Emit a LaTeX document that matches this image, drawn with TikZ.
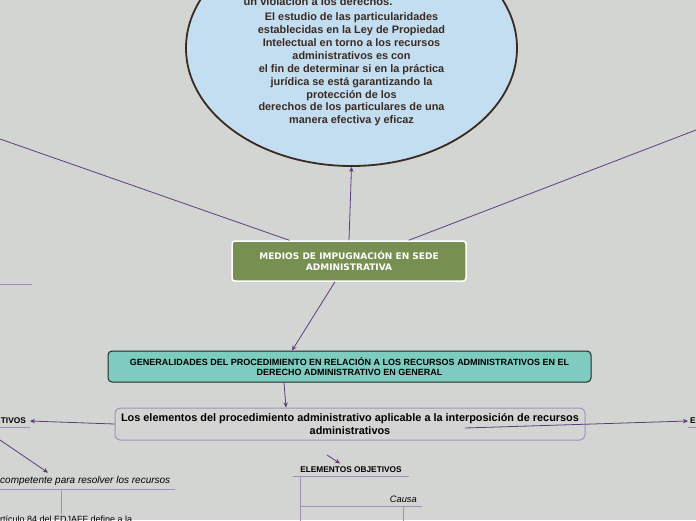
\documentclass[tikz,border=0pt]{standalone}
\usepackage{fontspec}
\setmainfont{Liberation Sans}
\newfontfamily\verd{DejaVu Sans}
\usepackage{tikz}
\usetikzlibrary{shapes.geometric}
\usetikzlibrary{arrows.meta}
\definecolor{fondo}{HTML}{D3D5D2}
\definecolor{cielo}{HTML}{C4DEF1}
\definecolor{cafe}{HTML}{3A2A22}
\definecolor{olivo}{HTML}{778F50}
\definecolor{menta}{HTML}{7ECCC0}
\definecolor{morado}{HTML}{5E3C80}
\definecolor{lila}{HTML}{A48EBF}

\begin{document}
\begin{tikzpicture}[x=1pt,y=-1pt,
	conn/.style={morado,line width=0.8pt},
	flecha/.style={conn,-{Stealth[length=5pt,width=4.5pt]}},
	sub/.style={lila,line width=1pt},
	tema/.style={font=\bfseries\fontsize{8.3}{10}\selectfont,inner xsep=2pt,inner ysep=3.5pt},
	hoja/.style={font=\itshape\fontsize{9.3}{11}\selectfont,inner xsep=1pt,inner ysep=3.5pt}]
	\fill[fondo] (0,0) rectangle (696,520);
	\useasboundingbox (0,0) rectangle (696,520);
	\node[ellipse,draw=cafe,line width=1.8pt,fill=cielo,minimum width=331pt,minimum height=236pt,inner sep=0pt] (obj) at (351.5,48) {};
	\node[text=cafe,font=\bfseries\fontsize{10.9}{12.95}\selectfont,align=center] (objtxt) at (351.5,69.3) {El estudio de las particularidades\\establecidas en la Ley de Propiedad\\Intelectual en torno a los recursos\\administrativos es con\\el fin de determinar si en la práctica\\jurídica se está garantizando la\\protección de los\\derechos de los particulares de una\\manera efectiva y eficaz};
	\node[text=cafe,font=\bfseries\fontsize{11.1}{13}\selectfont,anchor=base] (objtop) at (318,5) {un violación a los derechos.};
	\node[draw=white,line width=1.5pt,fill=olivo,rounded corners=3pt,minimum width=234pt,minimum height=40pt,text=white,align=center,font=\verd\bfseries\fontsize{9}{11}\selectfont] (main) at (349,261) {MEDIOS DE IMPUGNACIÓN EN SEDE\\ADMINISTRATIVA};
	\node[draw=black!85,line width=1pt,fill=menta,rounded corners=4pt,minimum width=483pt,minimum height=31pt,align=center,font=\bfseries\fontsize{9}{10}\selectfont] (gen) at (349.5,366.5) {GENERALIDADES DEL PROCEDIMIENTO EN RELACIÓN A LOS RECURSOS ADMINISTRATIVOS EN EL\\DERECHO ADMINISTRATIVO EN GENERAL};
	\node[draw=lila,line width=1pt,rounded corners=5pt,minimum width=470pt,minimum height=32pt,align=center,font=\bfseries\fontsize{10.9}{13}\selectfont] (elem) at (350,424) {Los elementos del procedimiento administrativo aplicable a la interposición de recursos\\administrativos};
	\node[tema,anchor=east] (subj) at (28,421) {TIVOS};
	\node[tema,anchor=west] (otro) at (688,421) {E};
	\node[hoja,anchor=west,font=\itshape\fontsize{10}{11}\selectfont] (comp) at (-1,481) {competente para resolver los recursos};
	\node[anchor=west,font=\fontsize{9}{11}\selectfont,inner sep=1pt] (art) at (-1,519) {rtículo 84 del EDJAFF define a la};
	\node[tema] (objs) at (351,470) {ELEMENTOS OBJETIVOS};
	\node[hoja,anchor=east] (causa) at (418,499) {Causa};
	\coordinate (lt) at (0,139);
	\coordinate (rt) at (696,130);
	\coordinate (lf) at (0,440);
	\coordinate (o1) at (327,455);
	\draw[conn] ([xshift=58pt]main.north west) -- (lt);
	\draw[conn] ([xshift=-58pt]main.north east) -- (rt);
	\draw[flecha] (main.north) -- (obj.south);
	\draw[flecha] ([xshift=-14pt]main.south) -- ([xshift=-57.5pt]gen.north);
	\draw[flecha] ([xshift=-65.5pt]gen.south) -- ([xshift=-64pt]elem.north);
	\draw[flecha] (elem.west) -- ([xshift=2pt]subj.east);
	\draw[flecha] ([xshift=115pt,yshift=-4pt]elem.center) -- (otro.west);
	\draw[flecha] (lf) -- ([xshift=49pt]comp.north west);
	\draw[flecha] (o1) -- ([xshift=-11pt]objs.north);
	\draw[sub] (0,284) -- (32,284);
	\draw[sub] ([xshift=2pt]subj.south east) -- ++(-40,0);
	\draw[sub] (otro.south west) -- ++(20,0);
	\draw[sub] (comp.south west) -- ++(176,0);
	\draw[sub] ([xshift=62pt]comp.south west) -- (art.north -| 61,0);
	\draw[sub] ([xshift=-5pt]objs.south west) -- ([xshift=5pt]objs.south east);
	\draw[sub] ([xshift=-51pt]objs.south) -- ++(0,60);
	\draw[sub] (causa.south east) ++(4,0) -- (300,0 |- causa.south);
	\draw[sub] (403,0 |- causa.south) -- ++(0,30);
\end{tikzpicture}
\end{document}
